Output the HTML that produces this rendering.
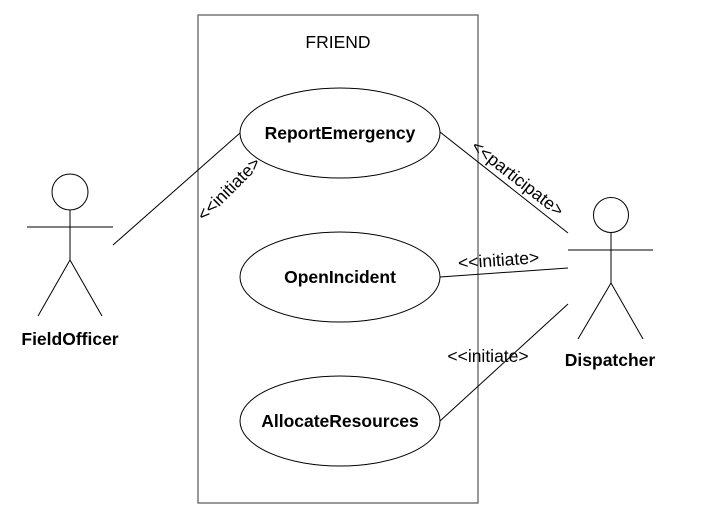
<!DOCTYPE html>
<html><head><style>body{margin:0;background:#fff}svg{display:block}</style></head><body>
<svg width="726" height="522" xmlns="http://www.w3.org/2000/svg" font-family="Liberation Sans, Arial, sans-serif">
<rect x="0" y="0" width="726" height="522" fill="#fff"/>
<rect x="198" y="15" width="280" height="488" fill="none" stroke="#555" stroke-width="1.2"/>
<text x="338" y="48" font-size="17.5" text-anchor="middle">FRIEND</text>
<g fill="none" stroke="#000" stroke-width="1">
<ellipse cx="340" cy="133" rx="100" ry="45"/>
<ellipse cx="340" cy="277" rx="100" ry="45"/>
<ellipse cx="340" cy="421" rx="100" ry="45"/>
<circle cx="70" cy="192" r="18"/>
<line x1="27" y1="227" x2="113" y2="227"/>
<line x1="70" y1="210" x2="70" y2="260"/>
<line x1="70" y1="260" x2="38" y2="316"/>
<line x1="70" y1="260" x2="102" y2="316"/>
<circle cx="611" cy="215" r="17.5"/>
<line x1="568" y1="250" x2="653" y2="250"/>
<line x1="611" y1="232" x2="611" y2="283"/>
<line x1="611" y1="283" x2="578" y2="339"/>
<line x1="611" y1="283" x2="643" y2="339"/>
<line x1="113" y1="245" x2="240" y2="133"/>
<line x1="440" y1="132" x2="568" y2="233"/>
<line x1="440" y1="277" x2="568" y2="268"/>
<line x1="440" y1="421" x2="568" y2="304"/>
</g>
<g font-weight="bold" font-size="17.5" text-anchor="middle">
<text x="340" y="139">ReportEmergency</text>
<text x="340" y="283">OpenIncident</text>
<text x="340" y="427">AllocateResources</text>
<text x="70" y="345">FieldOfficer</text>
<text x="610" y="366">Dispatcher</text>
</g>
<g font-size="17.5" text-anchor="middle">
<text transform="translate(233,193) rotate(-45)">&lt;&lt;initiate&gt;</text>
<text transform="translate(514,183) rotate(38)">&lt;&lt;participate&gt;</text>
<text transform="translate(499,266) rotate(-4)">&lt;&lt;initiate&gt;</text>
<text x="488" y="362">&lt;&lt;initiate&gt;</text>
</g>
</svg>
</body></html>
